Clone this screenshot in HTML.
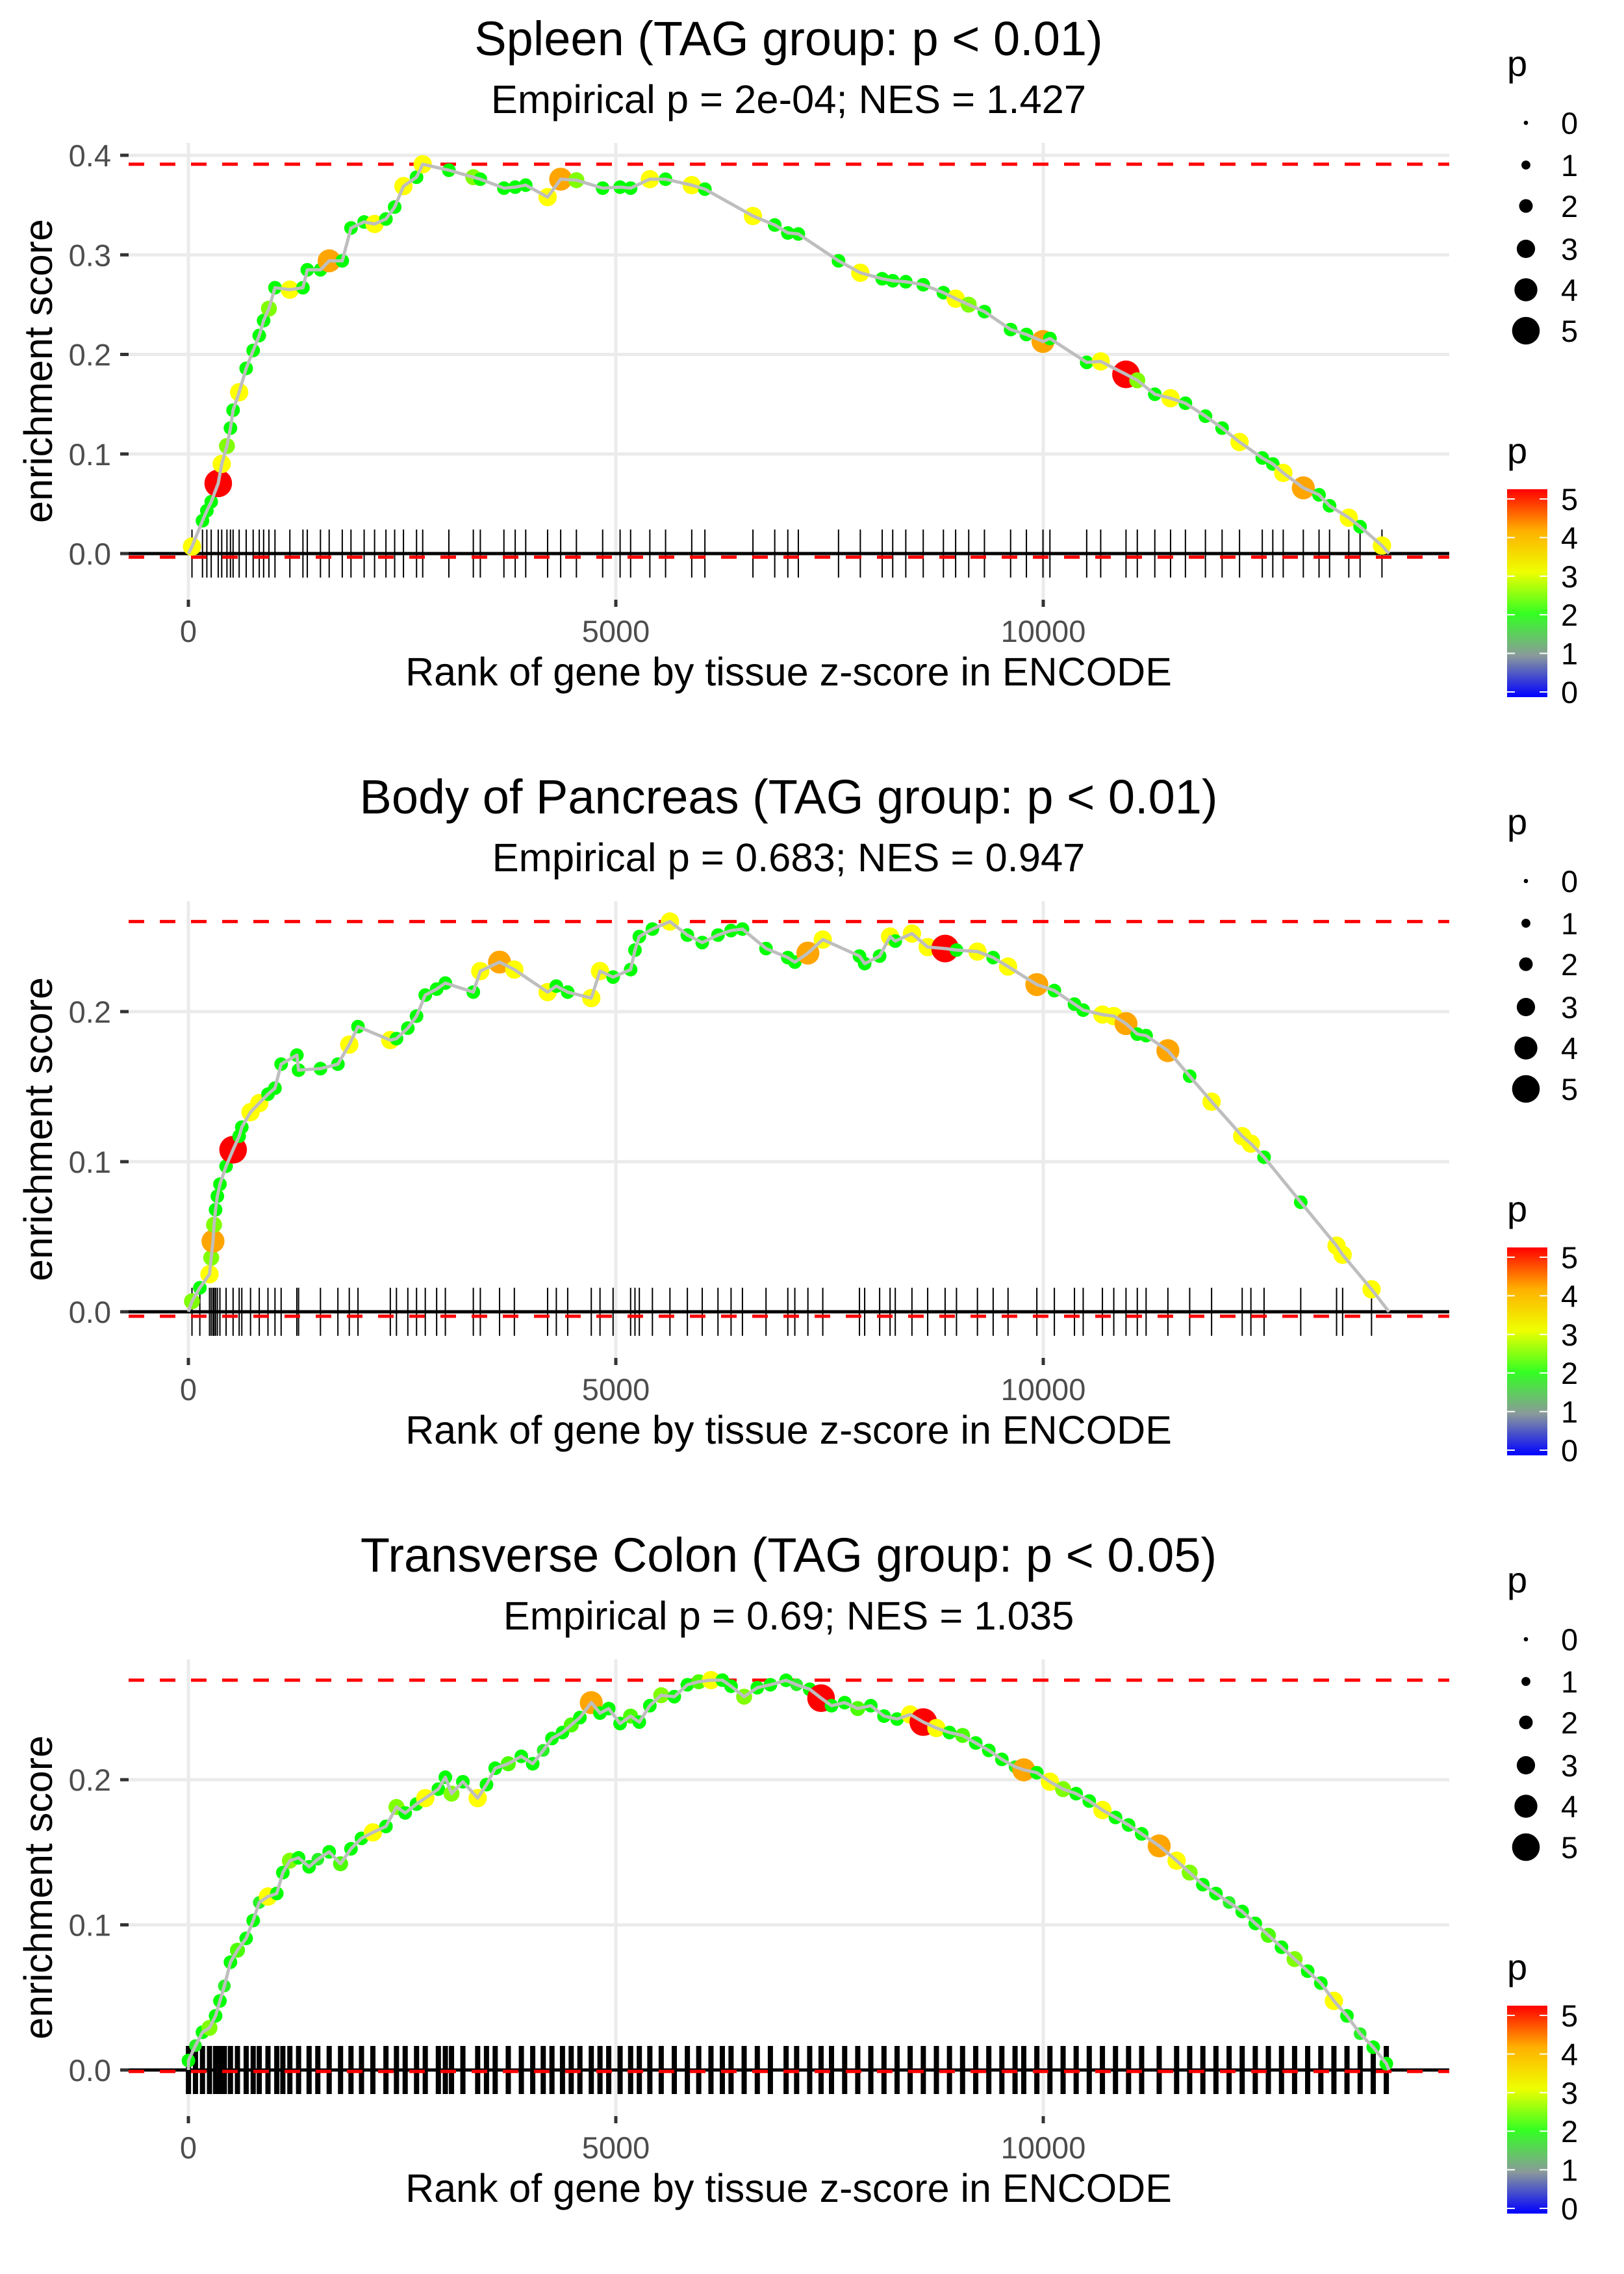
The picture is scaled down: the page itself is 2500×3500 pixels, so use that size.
<!DOCTYPE html>
<html><head><meta charset="utf-8"><style>
html,body{margin:0;padding:0;background:#fff;}
svg{display:block;font-family:"Liberation Sans",Arial,sans-serif;}
</style></head><body>
<svg id="chart" width="2500" height="3500" viewBox="0 0 2500 3500" xmlns="http://www.w3.org/2000/svg">
<rect width="2500" height="3500" fill="#fff"/>
<defs>
<linearGradient id="pgrad" x1="0" y1="1" x2="0" y2="0">
<stop offset="0" stop-color="#0000ff"/><stop offset="0.2" stop-color="#8a9a9a"/><stop offset="0.4" stop-color="#33ff22"/><stop offset="0.6" stop-color="#eeff00"/><stop offset="0.8" stop-color="#ffb000"/><stop offset="1" stop-color="#ff0000"/>
</linearGradient>
</defs>
</svg>
<script>
// ---------- DATA ----------
const titles = ["Spleen (TAG group: p < 0.01)","Body of Pancreas (TAG group: p < 0.01)","Transverse Colon (TAG group: p < 0.05)"];
const subtitles = ["Empirical p = 2e-04; NES = 1.427","Empirical p = 0.683; NES = 0.947","Empirical p = 0.69; NES = 1.035"];
const nGenes = 14044;
const minES = [-0.0036,-0.003,-0.001];
const yTicks = [[0,0.1,0.2,0.3,0.4],[0,0.1,0.2],[0,0.1,0.2]];
const yTickLabels = [["0.0","0.1","0.2","0.3","0.4"],["0.0","0.1","0.2"],["0.0","0.1","0.2"]];
const xTicks = [0,5000,10000];
const xTickLabels = ["0","5000","10000"];
const legendVals = [0,1,2,3,4,5];

const rank1 = [42,165,216,267,349,390,451,492,523,594,676,758,829,880,942,1013,1187,1340,1391,1545,1647,1800,1902,2056,2178,2311,2413,2516,2669,2741,3047,3333,3415,3691,3823,3946,4202,4355,4539,4846,5050,5173,5398,5582,5888,6042,6604,6859,7012,7135,7605,7860,8116,8239,8392,8596,8832,8975,9128,9312,9618,9803,9997,10078,10508,10672,10968,11100,11305,11489,11663,11897,12092,12296,12562,12685,12807,13042,13226,13349,13574,13706,13962];
const es1 = [.007,.033,.043,.052,.0705,.090,.108,.126,.144,.162,.186,.204,.219,.234,.246,.267,.265,.267,.285,.285,.294,.294,.327,.333,.331,.336,.348,.369,.378,.391,.385,.378,.376,.367,.368,.370,.358,.376,.375,.367,.368,.367,.376,.376,.370,.366,.339,.330,.322,.321,.294,.282,.276,.274,.273,.270,.262,.256,.250,.243,.225,.220,.213,.216,.192,.193,.180,.174,.160,.156,.151,.138,.126,.112,.096,.090,.081,.066,.059,.048,.036,.027,.008];
const p1 = [3,2,2,2,5,3,2.5,2,2,3,2,2,2,2,2.5,2,3,2,2,2,4,2,2,2,3,2,2,3,2,3,2,2.5,2,2,2,2,3,4,2.5,2,2,2,3,2,3,2,3,2,2,2,2,3,2,2,2,2,2,3,2.5,2,2,2,4,2,2,3,5,2.5,2,3,2,2,2,3,2,2,3,4,2,2,3,2,3];

const rank2 = [42,134,247,267,288,300,318,339,369,441,523,594,625,727,829,931,1013,1085,1269,1289,1545,1749,1882,1984,2362,2434,2567,2669,2771,2904,3006,3333,3415,3640,3813,4202,4304,4437,4713,4815,4968,5173,5224,5275,5428,5633,5837,6011,6195,6348,6481,6757,7012,7094,7247,7421,7850,7911,8086,8208,8269,8464,8648,8852,8985,9230,9414,9588,9925,10130,10365,10467,10692,10825,10968,11100,11203,11458,11713,11969,12327,12429,12583,13012,13431,13502,13840];
const es2 = [.007,.016,.025,.036,.047,.058,.068,.077,.085,.097,.108,.117,.123,.133,.139,.145,.149,.165,.171,.161,.162,.165,.178,.190,.181,.182,.189,.197,.211,.215,.219,.213,.227,.233,.228,.213,.217,.213,.209,.227,.223,.228,.241,.250,.255,.260,.251,.246,.251,.254,.255,.242,.236,.233,.239,.248,.237,.232,.237,.250,.247,.252,.243,.242,.241,.240,.236,.230,.218,.214,.205,.201,.198,.197,.192,.185,.184,.174,.157,.140,.117,.112,.103,.073,.044,.038,.015];
const p2 = [2.5,2,3,2.5,4,2.5,2,2,2,2,5,2,2,3,3,2,2,2,2,2,2,2,3,2,3,2,2,2,2,2,2,2,3,4,3,3,2,2,3,3,2,2,2,2,2,3,2,2,2,2,2,2,2,2,4,3,2,2,2,3,2,3,3,5,2,3,2,3,4,2,2,2,3,3,4,2,2,4,2,3,3,3,2,2,3,3,3];

const rank3 = [1,83,165,247,318,369,421,492,574,676,758,829,931,1034,1105,1187,1289,1412,1514,1647,1780,1902,2025,2158,2311,2434,2536,2669,2771,2924,3006,3078,3211,3384,3487,3589,3742,3895,4028,4151,4253,4376,4478,4580,4713,4815,4917,5050,5173,5275,5398,5531,5684,5837,5970,6113,6246,6348,6501,6655,6808,6992,7115,7268,7401,7523,7677,7830,7983,8137,8290,8443,8597,8750,8903,9056,9210,9363,9516,9670,9772,9925,10078,10232,10385,10538,10692,10845,10998,11151,11356,11560,11713,11867,12020,12174,12327,12480,12633,12787,12940,13093,13247,13400,13553,13707,13860,14013];
const es3 = [.0065,.0168,.026,.029,.0373,.0476,.0579,.0743,.0825,.0907,.103,.1154,.1195,.1216,.136,.1442,.1462,.140,.1452,.1503,.1421,.1524,.1596,.1637,.1678,.1812,.1771,.1832,.1873,.1935,.2017,.1904,.1986,.1873,.1966,.2079,.2110,.2161,.2110,.2202,.2284,.2325,.2377,.2428,.2531,.2459,.2490,.2387,.2438,.2397,.2510,.2582,.2572,.2654,.2675,.2686,.2686,.2644,.2572,.2634,.2654,.2685,.2654,.2623,.2562,.2510,.2531,.2490,.2510,.2438,.2418,.2449,.2397,.2356,.2325,.2305,.2253,.2202,.2140,.2089,.2068,.2048,.1986,.1935,.1904,.1853,.1791,.1740,.1688,.1627,.1544,.1442,.1360,.1277,.1216,.1154,.1092,.1010,.0928,.0846,.0764,.0681,.0599,.0476,.0373,.0250,.0157,.0044];
const p3 = [2,1.8,2,2.5,2,2,1.8,2,2.3,2,2,1.8,3,2,2,2.5,2,2,1.8,2,2.3,2,2,3,2,2.5,2,2,3,2,2,2.5,2,3,2,2,2.3,2,2,1.8,2,2,2.3,2,4,2,2,2,2.3,2,2,2.5,2,2,2.3,3,2,2,2.5,2,2,2,1.8,2,5,2,2,2.3,2,2,2,3,5,3,2,2.3,2,2,2,1.8,4,2,3,2.5,2,2,3,2,2,2,4,3,2.5,2,2,1.8,2,2,2.3,2,2.5,2,2,3,2,1.8,2,2];

const ranks = [rank1,rank2,rank3];
const esVals = [es1,es2,es3];
const pVals = [p1,p2,p3];

// ---------- LAYOUT ----------
const svg = document.getElementById('chart');
const NS = 'http://www.w3.org/2000/svg';
const PANEL_DY = 1167;
const X0 = 290, XPR = 0.1316, PL = 198, PR = 2231, CX = 1214;
const zeroY = 852;
const yScalePer = [1532.5, 2310, 2234];
const rugW = [2, 2, 8];
function xs(r){ return X0 + r*XPR; }
function mk(tag, attrs, parent){ const e=document.createElementNS(NS,tag); for(const k in attrs) e.setAttribute(k,attrs[k]); (parent||svg).appendChild(e); return e; }
function txt(s, attrs, parent){ const e=mk('text',attrs,parent); e.textContent=s; return e; }
const stops=[[0,0,255],[190,190,190],[0,255,0],[255,255,0],[255,165,0],[255,0,0]];
function pcol(p){ p=Math.max(0,Math.min(5,p)); const i=Math.min(4,Math.floor(p)); const t=p-i; const a=stops[i],b=stops[i+1]; return 'rgb('+a.map((v,k)=>Math.round(v+(b[k]-v)*t)).join(',')+')'; }
function prad(p){ return 3.3 + 3.6*p; }

for(let k=0;k<3;k++){
  const off = k*PANEL_DY;
  const y0 = zeroY + off;
  const ys = v => y0 - v*yScalePer[k];
  const g = mk('g',{});
  
  
  const top = 220+off, bot = 923+off;
  xTicks.forEach((t,i)=>{ const l=mk('line',{x1:xs(t),x2:xs(t),y1:top,y2:bot,stroke:'#ebebeb','stroke-width':5},g);   });
  yTicks[k].forEach(t=>{ const l=mk('line',{x1:PL,x2:PR,y1:ys(t),y2:ys(t),stroke:'#ebebeb','stroke-width':5},g);   });
  yTicks[k].forEach((t,i)=>{
    const l=mk('line',{x1:185,x2:198,y1:ys(t),y2:ys(t),stroke:'#333','stroke-width':5},g);
     
    const tx=txt(yTickLabels[k][i],{x:171,y:ys(t)+17,'text-anchor':'end','font-size':47,fill:'#4d4d4d'},g);
     
  });
  xTicks.forEach((t,i)=>{
    const l=mk('line',{x1:xs(t),x2:xs(t),y1:bot,y2:bot+11,stroke:'#333','stroke-width':5},g);
     
    const tx=txt(xTickLabels[i],{x:xs(t),y:y0+136,'text-anchor':'middle','font-size':47,fill:'#4d4d4d'},g);
     
  });
  ranks[k].forEach(r=>{ const l=mk('line',{x1:xs(r),x2:xs(r),y1:y0-37,y2:y0+37,stroke:'#000','stroke-width':rugW[k]},g);   });
  const z=mk('line',{x1:PL,x2:PR,y1:y0,y2:y0,stroke:'#000','stroke-width':5},g);
   
  const mx = Math.max(...esVals[k]);
  const d1=mk('line',{x1:PL,x2:PR,y1:ys(mx),y2:ys(mx),stroke:'#ff0000','stroke-width':5,'stroke-dasharray':'24 24'},g);
   
  const d2=mk('line',{x1:PL,x2:PR,y1:ys(minES[k]),y2:ys(minES[k]),stroke:'#ff0000','stroke-width':5,'stroke-dasharray':'24 24'},g);
   
  let pts = xs(0)+','+ys(0);
  ranks[k].forEach((r,i)=>{ pts += ' '+xs(r)+','+ys(esVals[k][i]); });
  pts += ' '+xs(nGenes)+','+ys(0);
  ranks[k].forEach((r,i)=>{
    const c=mk('circle',{cx:xs(r),cy:ys(esVals[k][i]),r:prad(pVals[k][i]),fill:pcol(pVals[k][i])},g);
     
  });
  const pl=mk('polyline',{points:pts,fill:'none',stroke:'#bebebe','stroke-width':5,'stroke-linejoin':'round'},g);
   
  const t1=txt(titles[k],{x:CX,y:85+off,'text-anchor':'middle','font-size':74,fill:'#000'},g);
   
  const t2=txt(subtitles[k],{x:CX,y:174+off,'text-anchor':'middle','font-size':61.5,fill:'#000'},g);
   
  const xa=txt('Rank of gene by tissue z-score in ENCODE',{x:CX,y:1055+off,'text-anchor':'middle','font-size':61,fill:'#000'},g);
   
  const cy=571+off;
  const ya=txt('enrichment score',{x:0,y:0,'text-anchor':'middle','font-size':61,fill:'#000',transform:'translate(80,'+cy+') rotate(-90)'},g);
   
  const lg=mk('g',{},g);
   
  const lt=txt('p',{x:2320,y:117+off,'font-size':56,fill:'#000'},lg);
   
  const legY=[189,254,317,383,446,509];
  legendVals.forEach((v,i)=>{
    const c=mk('circle',{cx:2349,cy:legY[i]+off,r:prad(v),fill:'#000'},lg);
     
    const t=txt(String(v),{x:2403,y:legY[i]+off+17,'font-size':47,fill:'#000'},lg);
     
  });
  const cg=mk('g',{},g);
   
  const ct=txt('p',{x:2320,y:713+off,'font-size':56,fill:'#000'},cg);
   
  const bar=mk('rect',{x:2320,y:753+off,width:62,height:320,fill:'url(#pgrad)'},cg);
   
  legendVals.forEach(v=>{
    const yy = 1065 - v*59.4 + off;
    mk('line',{x1:2320,x2:2332,y1:yy,y2:yy,stroke:'#fff','stroke-width':2},cg);
    mk('line',{x1:2370,x2:2382,y1:yy,y2:yy,stroke:'#fff','stroke-width':2},cg);
    const t=txt(String(v),{x:2403,y:yy+17,'font-size':47,fill:'#000'},cg);
     
  });
}
</script>
</body></html>
